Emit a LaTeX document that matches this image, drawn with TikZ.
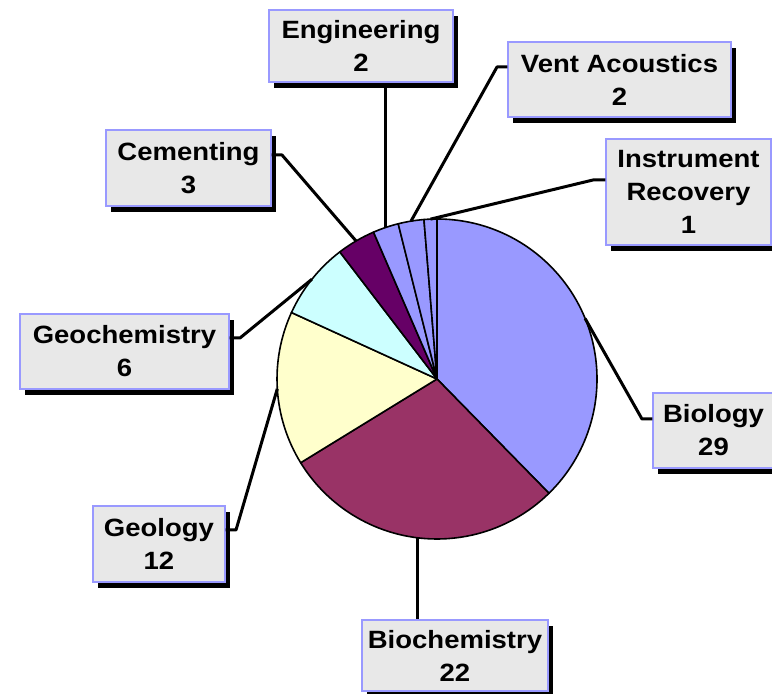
\documentclass[tikz,border=0pt]{standalone}
\usepackage{fontspec}
\newfontfamily\lblfont[FakeStretch=1.1]{Liberation Sans}
\usetikzlibrary{calc}
\definecolor{cBio}{HTML}{9999FF}
\definecolor{cBioc}{HTML}{993366}
\definecolor{cGeol}{HTML}{FFFFCC}
\definecolor{cGeoc}{HTML}{CCFFFF}
\definecolor{cCem}{HTML}{660066}
\definecolor{boxedge}{HTML}{9999FF}
\definecolor{boxfill}{HTML}{E8E8E8}
\tikzset{
  lbl/.style={draw=boxedge, line width=1.2pt, fill=boxfill, inner sep=0pt, align=center,
    font=\lblfont\bfseries\fontsize{25}{33}\selectfont,
    preaction={fill=black, transform canvas={shift={(5pt,-6pt)}}}},
  leader/.style={line width=3pt, black, line join=round},
  slice/.style={draw=black, line width=1.6pt, line join=round}
}
\begin{document}
\begin{tikzpicture}[x=1pt,y=1pt]
\useasboundingbox (0,0) rectangle (772,694);
\coordinate (c) at (437,315);
% pie slices
\filldraw[slice, fill=cBio]  (c) -- ++(90:160) arc[start angle=90, end angle=-45.584, radius=160] -- cycle;
\filldraw[slice, fill=cBioc] (c) -- ++(-45.584:160) arc[start angle=-45.584, end angle=-148.442, radius=160] -- cycle;
\filldraw[slice, fill=cGeol] (c) -- ++(-148.442:160) arc[start angle=-148.442, end angle=-204.545, radius=160] -- cycle;
\filldraw[slice, fill=cGeoc] (c) -- ++(-204.545:160) arc[start angle=-204.545, end angle=-232.597, radius=160] -- cycle;
\filldraw[slice, fill=cCem]  (c) -- ++(-232.597:160) arc[start angle=-232.597, end angle=-246.623, radius=160] -- cycle;
\filldraw[slice, fill=cBio]  (c) -- ++(-246.623:160) arc[start angle=-246.623, end angle=-255.974, radius=160] -- cycle;
\filldraw[slice, fill=cBio]  (c) -- ++(-255.974:160) arc[start angle=-255.974, end angle=-265.325, radius=160] -- cycle;
\filldraw[slice, fill=cBio]  (c) -- ++(-265.325:160) arc[start angle=-265.325, end angle=-270, radius=160] -- cycle;
% slice midpoints
\coordinate (mBio)  at ($(c)+(22.21:160)$);
\coordinate (mBioc) at ($(c)+(-97.01:160)$);
\coordinate (mGeol) at ($(c)+(183.5:160)$);
\coordinate (mGeoc) at ($(c)+(141.43:160)$);
\coordinate (mCem)  at ($(c)+(120.39:160)$);
\coordinate (mEng)  at ($(c)+(108.7:160)$);
\coordinate (mVent) at ($(c)+(99.35:160)$);
\coordinate (mInst) at ($(c)+(92.34:160)$);
% leader kinks
\coordinate (kVent) at (497,627);
\coordinate (kInst) at (593,514);
\coordinate (kCem)  at (282,539);
\coordinate (kGeoc) at (240,356);
\coordinate (kGeol) at (236,164);
\coordinate (kBio)  at (642,275);
% labels
\node[lbl, minimum width=184, minimum height=72]  (eng)  at (361,648)   {Engineering\\2};
\node[lbl, minimum width=223, minimum height=75]  (vent) at (619.5,614.5) {Vent Acoustics\\2};
\node[lbl, minimum width=165, minimum height=106] (inst) at (688.5,502) {Instrument\\Recovery\\1};
\node[lbl, minimum width=165, minimum height=76]  (cem)  at (188.5,526) {Cementing\\3};
\node[lbl, minimum width=209, minimum height=75]  (geoc) at (124.5,342.5) {Geochemistry\\6};
\node[lbl, minimum width=121, minimum height=75]  (bio)  at (713.5,263.5) {Biology\\29};
\node[lbl, minimum width=132, minimum height=76]  (geol) at (159,150)   {Geology\\12};
\node[lbl, minimum width=186, minimum height=71]  (bioc) at (455,38.5)  {Biochemistry\\22};
% leaders
\draw[leader] (mEng) -- (mEng |- eng.south);
\draw[leader] (mVent) -- (kVent) -- (kVent -| vent.west);
\draw[leader] (mInst) -- (kInst) -- (kInst -| inst.west);
\draw[leader] (mCem) -- (kCem) -- (kCem -| cem.east);
\draw[leader] (mGeoc) -- (kGeoc) -- (kGeoc -| geoc.east);
\draw[leader] (mGeol) -- (kGeol) -- (kGeol -| geol.east);
\draw[leader] (mBio) -- (kBio) -- (kBio -| bio.west);
\draw[leader] (mBioc) -- (mBioc |- bioc.north);
\end{tikzpicture}
\end{document}
